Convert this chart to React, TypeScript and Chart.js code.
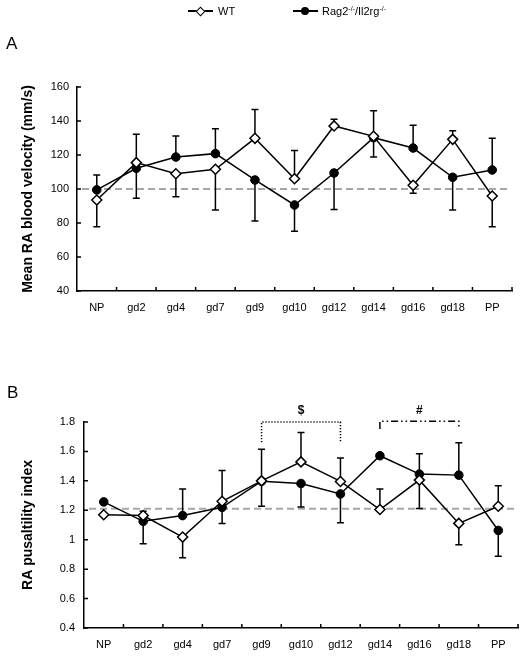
import React, { useEffect, useRef } from 'react';
import { Chart, registerables } from 'chart.js';

Chart.register(...registerables);

// ---------- data ----------
const categories = ['NP', 'gd2', 'gd4', 'gd7', 'gd9', 'gd10', 'gd12', 'gd14', 'gd16', 'gd18', 'PP'];

// Panel A: mean RA blood velocity (mm/s)
const wtVelocity = [93.5, 115.5, 109, 111.6, 129.8, 106, 137.1, 131, 102.2, 129.2, 95.9];
const ragVelocity = [99.5, 112.2, 118.8, 120.8, 105.3, 90.6, 109.4, 130.2, 124.1, 106.9, 111.2];
const wtVelocityErrUp = [0, 16.7, 0, 0, 17, 16.7, 4, 15, 0, 5, 0];
const wtVelocityErrDown = [15.7, 0, 13.5, 24, 0, 0, 0, 0, 4.7, 0, 18.1];
const ragVelocityErrUp = [8.7, 0, 12.4, 14.7, 0, 0, 0, 0, 13.4, 0, 18.6];
const ragVelocityErrDown = [0, 17.7, 0, 0, 24.1, 15.5, 21.5, 11.4, 0, 19.3, 0];
const velocityReference = 100;
const velocityTicks = [40, 60, 80, 100, 120, 140, 160];

// Panel B: RA pulsatility index
const wtPI = [1.17, 1.164, 1.018, 1.261, 1.4, 1.529, 1.396, 1.205, 1.405, 1.111, 1.227];
const ragPI = [1.257, 1.125, 1.164, 1.22, 1.398, 1.382, 1.311, 1.571, 1.446, 1.439, 1.063];
const wtPIErrUp = [0, 0.03, 0, 0.21, 0.214, 0.2, 0.16, 0.14, 0, 0, 0.14];
const wtPIErrDown = [0, 0, 0.14, 0, 0, 0, 0, 0, 0.193, 0.145, 0];
const ragPIErrUp = [0, 0, 0.18, 0, 0, 0, 0, 0, 0.138, 0.22, 0];
const ragPIErrDown = [0, 0.152, 0, 0.109, 0.171, 0.159, 0.195, 0, 0, 0, 0.175];
const piReference = 1.21;
const piTicks = [0.4, 0.6, 0.8, 1.0, 1.2, 1.4, 1.6, 1.8];

// significance brackets (panel B)
const bracketLabels = ['$', '#'];
const bracketFrom = ['gd9', 'gd14'];
const bracketTo = ['gd12', 'gd18'];

const FONT = '"Liberation Sans", Arial, Helvetica, sans-serif';

// ---------- plugins ----------
function refLinePlugin(value: number) {
  return {
    id: 'refLine',
    beforeDatasetsDraw(chart: any) {
      const { ctx, chartArea, scales } = chart;
      const y = scales.y.getPixelForValue(value);
      ctx.save();
      ctx.strokeStyle = '#a6a6a6';
      ctx.lineWidth = 2;
      ctx.setLineDash([7, 4]);
      ctx.beginPath();
      ctx.moveTo(chartArea.left + 5, y);
      ctx.lineTo(chartArea.right - 4, y);
      ctx.stroke();
      ctx.restore();
    },
  };
}

function errorBarPlugin(errs: { up: number[]; down: number[] }[]) {
  return {
    id: 'errorBars',
    beforeDatasetsDraw(chart: any) {
      const { ctx, scales } = chart;
      ctx.save();
      ctx.strokeStyle = '#000';
      ctx.lineWidth = 1.5;
      errs.forEach((e, di) => {
        const meta = chart.getDatasetMeta(di);
        const data = chart.data.datasets[di].data as number[];
        meta.data.forEach((pt: any, i: number) => {
          const v = data[i];
          const x = pt.x;
          const y0 = scales.y.getPixelForValue(v);
          const ends: number[] = [];
          if (e.up[i] > 0) ends.push(scales.y.getPixelForValue(v + e.up[i]));
          if (e.down[i] > 0) ends.push(scales.y.getPixelForValue(v - e.down[i]));
          ends.forEach((y1) => {
            ctx.beginPath();
            ctx.moveTo(x, y0);
            ctx.lineTo(x, y1);
            ctx.moveTo(x - 3.5, y1);
            ctx.lineTo(x + 3.5, y1);
            ctx.stroke();
          });
        });
      });
      ctx.restore();
    },
  };
}

const innerTicksPlugin = {
  id: 'innerTicks',
  afterDatasetsDraw(chart: any) {
    const { ctx, chartArea, scales } = chart;
    ctx.save();
    ctx.strokeStyle = '#000';
    ctx.lineWidth = 1.5;
    ctx.beginPath();
    const n = chart.data.labels.length;
    for (let i = 1; i <= n; i++) {
      const x = scales.x.getPixelForValue(i - 0.5);
      ctx.moveTo(x, chartArea.bottom);
      ctx.lineTo(x, chartArea.bottom - 4);
    }
    scales.y.ticks.forEach((t: any) => {
      const y = scales.y.getPixelForValue(t.value);
      ctx.moveTo(chartArea.left, y);
      ctx.lineTo(chartArea.left + 4, y);
    });
    ctx.stroke();
    ctx.restore();
  },
};

const bracketPlugin = {
  id: 'brackets',
  afterDraw(chart: any) {
    const { ctx, scales } = chart;
    const x = scales.x;
    const y = scales.y;
    const styles = [
      { dash: [1.2, 1.8], legBottom: 1.663, top: 1.8 },
      { dash: [7, 3, 1.5, 3, 1.5, 3], legBottom: 1.752, top: 1.805 },
    ];
    ctx.save();
    bracketLabels.forEach((lab, k) => {
      const st = styles[k];
      const x1 = x.getPixelForValue(categories.indexOf(bracketFrom[k]));
      const x2 = x.getPixelForValue(categories.indexOf(bracketTo[k]));
      const yt = y.getPixelForValue(st.top);
      const yb = y.getPixelForValue(st.legBottom);
      ctx.strokeStyle = '#000';
      ctx.lineWidth = 1.5;
      ctx.setLineDash(st.dash);
      ctx.beginPath();
      ctx.moveTo(x1, yb);
      ctx.lineTo(x1, yt);
      ctx.lineTo(x2, yt);
      ctx.lineTo(x2, yb);
      ctx.stroke();
      ctx.setLineDash([]);
      ctx.fillStyle = '#000';
      ctx.font = 'bold 12px ' + FONT;
      ctx.textAlign = 'center';
      ctx.textBaseline = 'middle';
      ctx.fillText(lab, (x1 + x2) / 2, yt - 11);
    });
    ctx.restore();
  },
};

function buildConfig(p: any) {
  return {
    type: 'line',
    data: {
      labels: categories,
      datasets: [
        {
          label: 'WT',
          data: p.wt,
          borderColor: '#000',
          borderWidth: 1.5,
          pointStyle: 'rectRot',
          pointRadius: 5,
          pointBackgroundColor: '#fff',
          pointBorderColor: '#000',
          pointBorderWidth: 1.5,
          tension: 0,
        },
        {
          label: 'Rag2-/-/Il2rg-/-',
          data: p.rag,
          borderColor: '#000',
          borderWidth: 1.5,
          pointStyle: 'circle',
          pointRadius: 4.3,
          pointBackgroundColor: '#000',
          pointBorderColor: '#000',
          pointBorderWidth: 1,
          tension: 0,
        },
      ],
    },
    options: {
      responsive: false,
      animation: false,
      events: [],
      layout: { padding: { top: p.padTop, right: p.padRight, left: 0, bottom: 0 } },
      plugins: { legend: { display: false }, tooltip: { enabled: false } },
      scales: {
        x: {
          type: 'category',
          offset: true,
          grid: { display: true, drawOnChartArea: false, drawTicks: false, offset: true },
          border: { display: true, color: '#000', width: 1.5 },
          ticks: { color: '#000', font: { family: FONT, size: 11 }, padding: 10, maxRotation: 0, autoSkip: false },
          afterFit: (s: any) => {
            s.height = p.xHeight;
          },
        },
        y: {
          min: p.min,
          max: p.max,
          afterBuildTicks: (s: any) => {
            s.ticks = p.ticks.map((v: number) => ({ value: v }));
          },
          grid: { display: true, drawOnChartArea: false, drawTicks: false },
          border: { display: true, color: '#000', width: 1.5 },
          ticks: {
            color: '#000',
            font: { family: FONT, size: 11 },
            padding: p.tickPad,
            callback: (v: number) => String(Math.round(v * 10) / 10),
          },
          title: {
            display: true,
            text: p.title,
            color: '#000',
            font: { family: FONT, size: 14, weight: 'bold' },
            padding: { top: 20, bottom: 0 },
          },
          afterFit: (s: any) => {
            s.width = p.yWidth;
          },
        },
      },
    },
    plugins: [
      refLinePlugin(p.ref),
      errorBarPlugin([
        { up: p.wtUp, down: p.wtDown },
        { up: p.ragUp, down: p.ragDown },
      ]),
      innerTicksPlugin,
      ...(p.extra || []),
    ],
  } as any;
}

export default function App() {
  const refA = useRef<HTMLCanvasElement>(null);
  const refB = useRef<HTMLCanvasElement>(null);

  useEffect(() => {
    const a = new Chart(
      refA.current as HTMLCanvasElement,
      buildConfig({
        wt: wtVelocity,
        rag: ragVelocity,
        wtUp: wtVelocityErrUp,
        wtDown: wtVelocityErrDown,
        ragUp: ragVelocityErrUp,
        ragDown: ragVelocityErrDown,
        min: 40,
        max: 160,
        ticks: velocityTicks,
        ref: velocityReference,
        title: 'Mean RA blood velocity (mm/s)',
        padTop: 87,
        padRight: 13,
        yWidth: 77,
        xHeight: 29,
        tickPad: 8,
      })
    );
    const b = new Chart(
      refB.current as HTMLCanvasElement,
      buildConfig({
        wt: wtPI,
        rag: ragPI,
        wtUp: wtPIErrUp,
        wtDown: wtPIErrDown,
        ragUp: ragPIErrUp,
        ragDown: ragPIErrDown,
        min: 0.4,
        max: 1.8,
        ticks: piTicks,
        ref: piReference,
        title: 'RA pusaltility index',
        padTop: 102,
        padRight: 7,
        yWidth: 84,
        xHeight: 30,
        tickPad: 9,
        extra: [bracketPlugin],
      })
    );
    return () => {
      a.destroy();
      b.destroy();
    };
  }, []);

  const textStyle: React.CSSProperties = {
    position: 'absolute',
    fontFamily: FONT,
    fontSize: 11,
    color: '#000',
    lineHeight: '12px',
    whiteSpace: 'nowrap',
  };
  const sup: React.CSSProperties = { fontSize: 7, verticalAlign: 'top', lineHeight: '8px' };

  return (
    <div style={{ position: 'absolute', left: 0, top: 0, width: 525, height: 658, background: '#fff', overflow: 'hidden' }}>
      <canvas ref={refA} width={525} height={320} style={{ position: 'absolute', left: 0, top: 0 }} />
      <canvas ref={refB} width={525} height={338} style={{ position: 'absolute', left: 0, top: 320 }} />

      {/* legend */}
      <div style={{ position: 'absolute', left: 188, top: 10, width: 25, height: 2, background: '#000' }} />
      <div
        style={{
          position: 'absolute',
          left: 197,
          top: 7.5,
          width: 5,
          height: 5,
          background: '#fff',
          border: '1.5px solid #000',
          transform: 'rotate(45deg)',
        }}
      />
      <div style={{ ...textStyle, left: 218, top: 5 }}>WT</div>
      <div style={{ position: 'absolute', left: 293, top: 10, width: 25, height: 2, background: '#000' }} />
      <div style={{ position: 'absolute', left: 301, top: 7, width: 8, height: 8, borderRadius: '50%', background: '#000' }} />
      <div style={{ ...textStyle, left: 322, top: 5 }}>
        Rag2<span style={sup}>-/-</span>/Il2rg<span style={sup}>-/-</span>
      </div>

      {/* panel letters */}
      <div style={{ ...textStyle, fontSize: 17, lineHeight: '20px', left: 6, top: 34 }}>A</div>
      <div style={{ ...textStyle, fontSize: 17, lineHeight: '20px', left: 7, top: 383 }}>B</div>
    </div>
  );
}
